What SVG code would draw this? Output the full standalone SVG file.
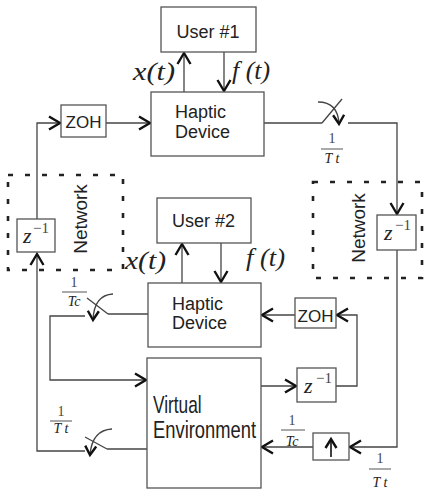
<svg xmlns="http://www.w3.org/2000/svg" width="426" height="491" viewBox="0 0 426 491">
<style>
.box{fill:#fff;stroke:#555;stroke-width:1.3}
.net{fill:none;stroke:#222;stroke-width:2.6;stroke-dasharray:5 12}
.ln{fill:none;stroke:#444;stroke-width:1.3}
.lbl{font-family:"Liberation Sans",Arial,sans-serif;fill:#222}
.math{font-family:"Liberation Serif","Times New Roman",serif;font-style:italic;fill:#222}
.up{font-family:"Liberation Serif","Times New Roman",serif;fill:#444}
.bar{stroke:#555;stroke-width:1}
</style>
<defs>
<marker id="ah" markerUnits="userSpaceOnUse" markerWidth="16" markerHeight="16" viewBox="-13 -8 16 16" refX="0" refY="0" orient="auto" overflow="visible">
<path d="M-11,-6.5 L0,0 L-11,6.5" fill="none" stroke="#111" stroke-width="2.4"/>
</marker>
<marker id="ahs" markerUnits="userSpaceOnUse" markerWidth="14" markerHeight="14" viewBox="-11 -7 14 14" refX="0" refY="0" orient="auto" overflow="visible">
<path d="M-9,-5.5 L0,0 L-9,5.5" fill="none" stroke="#111" stroke-width="2.4"/>
</marker>
</defs>

<g id="network-left">
<rect class="net" x="8" y="175" width="115" height="95"/>
<text class="lbl" font-size="19" transform="translate(87,219) rotate(-90)" text-anchor="middle">Network</text>
</g>
<g id="network-right">
<rect class="net" x="313" y="182" width="109" height="96"/>
<text class="lbl" font-size="19" transform="translate(365,228) rotate(-90)" text-anchor="middle">Network</text>
</g>

<g id="connectors">
<line class="ln" x1="184" y1="92" x2="184" y2="53" marker-end="url(#ah)"/>
<line class="ln" x1="224" y1="52" x2="224" y2="91" marker-end="url(#ah)"/>
<line class="ln" x1="106" y1="123" x2="150" y2="123" marker-end="url(#ah)"/>
<polyline class="ln" points="37,219 37,123 60,123" marker-end="url(#ah)"/>
<line class="ln" x1="264" y1="123" x2="322" y2="123"/>
<line class="ln" x1="322" y1="123" x2="342" y2="99"/>
<path class="ln" d="M318,102 Q338,102 339,124" marker-end="url(#ahs)"/>
<polyline class="ln" points="348,123 397,123 397,214" marker-end="url(#ah)"/>
<polyline class="ln" points="397,250 397,447 350,447" marker-end="url(#ah)"/>
<line class="ln" x1="313" y1="447" x2="262" y2="447" marker-end="url(#ah)"/>
<line class="ln" x1="261" y1="386" x2="296" y2="386" marker-end="url(#ah)"/>
<polyline class="ln" points="336,386 357,386 357,315 337,315" marker-end="url(#ah)"/>
<line class="ln" x1="295" y1="315" x2="262" y2="315" marker-end="url(#ah)"/>
<line class="ln" x1="182" y1="283" x2="182" y2="244" marker-end="url(#ah)"/>
<line class="ln" x1="221" y1="243" x2="221" y2="282" marker-end="url(#ah)"/>
<line class="ln" x1="148" y1="314" x2="108" y2="314"/>
<line class="ln" x1="108" y1="314" x2="87" y2="298"/>
<path class="ln" d="M113,294 Q94,295 93,320" marker-end="url(#ahs)"/>
<polyline class="ln" points="85,316 50,316 50,380 146,380" marker-end="url(#ah)"/>
<line class="ln" x1="147" y1="449" x2="107" y2="449"/>
<line class="ln" x1="107" y1="449" x2="85" y2="437"/>
<path class="ln" d="M112,429 Q92,430 90,455" marker-end="url(#ahs)"/>
<polyline class="ln" points="85,451 37,451 37,254" marker-end="url(#ah)"/>
</g>

<g id="user1">
<rect class="box" x="161" y="7" width="95" height="45"/>
<text class="lbl" font-size="18" x="208" y="38" text-anchor="middle">User #1</text>
</g>
<g id="haptic1">
<rect class="box" x="151" y="92" width="113" height="64"/>
<text class="lbl" font-size="18" x="175" y="118">Haptic</text>
<text class="lbl" font-size="18" x="175" y="138">Device</text>
</g>
<g id="zoh1">
<rect class="box" x="61" y="105" width="45" height="32"/>
<text class="lbl" font-size="17" x="83.5" y="128" text-anchor="middle">ZOH</text>
</g>
<g id="zinv-left">
<rect class="box" x="17" y="219" width="38" height="33"/>
<text class="math" font-size="22" x="23" y="243">z</text>
<text class="up" font-size="15" x="33" y="233">−1</text>
</g>
<g id="zinv-right">
<rect class="box" x="377" y="215" width="39" height="35"/>
<text class="math" font-size="22" x="384" y="240">z</text>
<text class="up" font-size="15" x="395" y="230">−1</text>
</g>
<g id="user2">
<rect class="box" x="157" y="198" width="94" height="45"/>
<text class="lbl" font-size="18" x="172" y="227">User #2</text>
</g>
<g id="haptic2">
<rect class="box" x="148" y="283" width="113" height="64"/>
<text class="lbl" font-size="18" x="172" y="310">Haptic</text>
<text class="lbl" font-size="18" x="172" y="329">Device</text>
</g>
<g id="zoh2">
<rect class="box" x="295" y="298" width="41" height="30"/>
<text class="lbl" font-size="17" x="315.5" y="322" text-anchor="middle">ZOH</text>
</g>
<g id="zinv-bottom">
<rect class="box" x="297" y="368" width="39" height="34"/>
<text class="math" font-size="22" x="304" y="393">z</text>
<text class="up" font-size="15" x="316" y="383">−1</text>
</g>
<g id="upsample">
<rect class="box" x="313" y="433" width="36" height="27"/>
<line x1="331" y1="457" x2="331" y2="439" stroke="#111" stroke-width="1.6" marker-end="url(#ahs)"/>
</g>
<g id="virtual-env">
<rect class="box" x="147" y="358" width="114" height="130"/>
<text class="lbl" font-size="24" transform="translate(153,413) scale(0.72,1)">Virtual</text>
<text class="lbl" font-size="24" transform="translate(153,438) scale(0.765,1)">Environment</text>
</g>

<g id="labels">
<text class="math" font-size="25" x="133" y="80" textLength="42" lengthAdjust="spacingAndGlyphs">x(t)</text>
<text class="math" font-size="25" x="232" y="79" textLength="38" lengthAdjust="spacingAndGlyphs">f (t)</text>
<text class="math" font-size="25" x="125" y="269" textLength="41" lengthAdjust="spacingAndGlyphs">x(t)</text>
<text class="math" font-size="25" x="246" y="266" textLength="39" lengthAdjust="spacingAndGlyphs">f (t)</text>

<text class="up" font-size="14" x="332" y="143" text-anchor="middle">1</text>
<line class="bar" x1="321" y1="149" x2="343" y2="149"/>
<text class="math" font-size="14" x="332" y="163" text-anchor="middle" fill="#444">T t</text>

<text class="up" font-size="14" x="74" y="287" text-anchor="middle">1</text>
<line class="bar" x1="62" y1="292" x2="87" y2="292"/>
<text class="math" font-size="14" x="74" y="306" text-anchor="middle" fill="#444">Tc</text>

<text class="up" font-size="14" x="61" y="416" text-anchor="middle">1</text>
<line class="bar" x1="50" y1="421" x2="72" y2="421"/>
<text class="math" font-size="14" x="61" y="433" text-anchor="middle" fill="#444">T t</text>

<text class="up" font-size="14" x="292" y="425" text-anchor="middle">1</text>
<line class="bar" x1="281" y1="430" x2="305" y2="430"/>
<text class="math" font-size="14" x="292" y="446" text-anchor="middle" fill="#444">Tc</text>

<text class="up" font-size="14" x="380" y="463" text-anchor="middle">1</text>
<line class="bar" x1="369" y1="469" x2="391" y2="469"/>
<text class="math" font-size="14" x="380" y="487" text-anchor="middle" fill="#444">T t</text>
</g>
</svg>
